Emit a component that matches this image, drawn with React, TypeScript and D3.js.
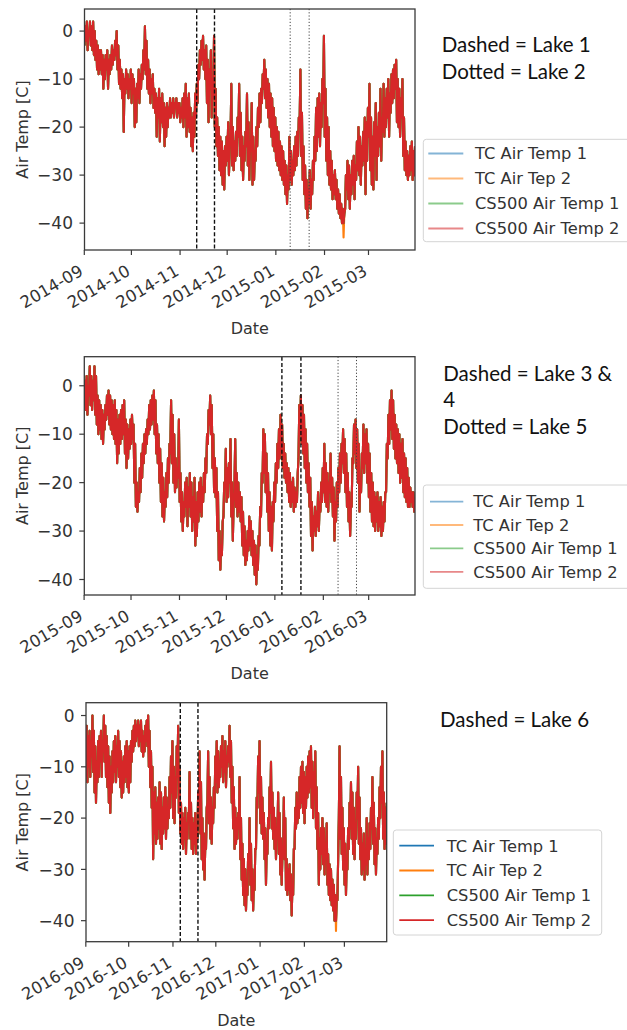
import React from 'react';
import * as d3 from 'd3';

// ---------- DATA ----------
const seriesNames = ['TC Air Temp 1', 'TC Air Tep 2', 'CS500 Air Temp 1', 'CS500 Air Temp 2'];
const seriesColors = ['#1f77b4', '#ff7f0e', '#2ca02c', '#d62728'];
const yTickValues = [0, -10, -20, -30, -40];

// daily [max, min] air temperature readings, winter 2014-15 (from 2014-09-01)
const temps2014 = [
  [1,-3],[2,-2],[0,-4],[2,-1],[1,-3],[2,-4],[0,-5],[-2,-6],[-3,-8],[-4,-9],
  [-4,-8],[-5,-9],[-6,-12],[-5,-10],[-4,-8],[-6,-12],[-5,-9],[-3,-8],[-4,-7],[-2,-6],
  [0,-5],[-3,-8],[-6,-11],[-8,-12],[-9,-14],[-10,-21],[-8,-13],[-9,-12],[-10,-14],[-8,-12],
  [-9,-15],[-10,-13],[-12,-20],[-11,-19],[-8,-14],[-9,-15],[-7,-12],[-4,-10],[1,-8],[-2,-9],
  [-6,-12],[-8,-13],[-10,-15],[-9,-13],[-12,-16],[-13,-17],[-14,-22],[-12,-18],[-14,-23],[-13,-19],
  [-15,-20],[-16,-24],[-15,-22],[-16,-20],[-14,-18],[-15,-18],[-14,-17],[-15,-18],[-14,-16],[-15,-18],
  [-15,-17],[-16,-19],[-14,-18],[-13,-20],[-11,-18],[-14,-22],[-13,-20],[-16,-21],[-18,-24],[-17,-25],
  [-13,-22],[-11,-18],[-7,-15],[-4,-10],[-2,-7],[-1,-6],[-4,-8],[-3,-10],[-6,-15],[-8,-19],
  [-4,-12],[-10,-18],[-1,-14],[-12,-20],[-18,-24],[-20,-26],[-22,-29],[-23,-30],[-25,-32],[-24,-33],
  [-22,-28],[-19,-27],[-24,-30],[-11,-23],[-20,-28],[-23,-29],[-21,-27],[-18,-26],[-11,-22],[-17,-26],
  [-22,-29],[-24,-31],[-21,-27],[-13,-24],[-19,-28],[-23,-31],[-15,-25],[-22,-32],[-25,-31],[-20,-27],
  [-16,-24],[-13,-20],[-12,-19],[-9,-15],[-6,-12],[-8,-14],[-10,-16],[-11,-18],[-13,-20],[-14,-22],
  [-16,-24],[-18,-25],[-20,-27],[-21,-28],[-23,-29],[-24,-30],[-25,-31],[-27,-32],[-28,-34],[-30,-36],
  [-22,-33],[-25,-31],[-27,-32],[-24,-30],[-22,-29],[-21,-28],[-18,-26],[-8,-20],[-17,-26],[-24,-31],
  [-28,-34],[-31,-37],[-33,-39],[-29,-36],[-31,-37],[-27,-34],[-22,-31],[-16,-27],[-14,-25],[-13,-22],
  [-15,-24],[-10,-20],[-1,-15],[-12,-22],[-18,-27],[-20,-30],[-25,-32],[-27,-33],[-30,-35],[-29,-34],
  [-31,-35],[-33,-37],[-34,-38],[-36,-39],[-37,-40],[-38,-40],[-30,-37],[-27,-33],[-28,-35],[-30,-37],
  [-27,-34],[-26,-32],[-28,-35],[-23,-31],[-20,-29],[-22,-30],[-24,-32],[-21,-28],[-18,-27],[-19,-34],
  [-16,-27],[-11,-22],[-18,-29],[-22,-32],[-19,-33],[-15,-26],[-20,-31],[-17,-26],[-12,-24],[-18,-27],
  [-11,-21],[-14,-22],[-12,-20],[-10,-18],[-13,-22],[-9,-17],[-8,-15],[-7,-14],[-6,-12],[-10,-19],
  [-12,-20],[-14,-22],[-10,-18],[-18,-26],[-23,-29],[-25,-30],[-26,-31],[-24,-30],[-23,-29],[-25,-31],
  [-24,-30],
];

// daily [max, min], winter 2015-16 (from 2015-09-01)
const temps2015 = [
  [1,-4],[2,-5],[0,-6],[4,-2],[2,-4],[1,-5],[4,-3],[2,-6],[-2,-8],[-3,-10],
  [-4,-9],[-5,-11],[-6,-12],[-4,-9],[-2,-7],[-1,-6],[-2,-8],[-3,-9],[-4,-10],[-3,-11],
  [-5,-12],[-7,-16],[-6,-14],[-5,-12],[-4,-11],[-3,-10],[-7,-14],[-8,-17],[-9,-15],[-7,-13],
  [-6,-12],[-8,-11],[-12,-20],[-20,-25],[-22,-26],[-17,-24],[-14,-22],[-12,-19],[-10,-16],[-9,-14],
  [-7,-12],[-4,-10],[-3,-9],[-2,-8],[-1,-7],[-3,-10],[-8,-14],[-10,-16],[-13,-20],[-16,-24],
  [-19,-27],[-22,-28],[-18,-25],[-15,-23],[-12,-20],[-3,-14],[-6,-16],[-10,-20],[-15,-22],[-17,-21],
  [-7,-19],[-18,-24],[-22,-28],[-24,-30],[-20,-27],[-19,-25],[-21,-29],[-18,-25],[-20,-27],[-23,-30],
  [-19,-28],[-24,-33],[-22,-31],[-20,-28],[-19,-26],[-21,-27],[-18,-24],[-15,-22],[-10,-18],[-5,-12],
  [-2,-8],[-4,-10],[-10,-17],[-15,-22],[-17,-23],[-22,-30],[-30,-36],[-33,-38],[-28,-35],[-20,-27],
  [-13,-21],[-17,-24],[-16,-23],[-11,-20],[-20,-27],[-24,-32],[-11,-22],[-18,-25],[-20,-27],[-22,-26],
  [-23,-28],[-26,-33],[-29,-35],[-32,-37],[-30,-36],[-27,-34],[-28,-33],[-30,-35],[-32,-37],[-33,-39],
  [-35,-41],[-31,-38],[-25,-33],[-18,-27],[-9,-20],[-10,-18],[-14,-22],[-18,-26],[-22,-30],[-25,-33],
  [-24,-34],[-20,-28],[-16,-24],[-12,-20],[-9,-17],[-6,-15],[-8,-14],[-12,-17],[-14,-19],[-16,-20],
  [-17,-22],[-18,-24],[-20,-25],[-19,-24],[-21,-26],[-22,-25],[-18,-24],[-4,-15],[-2,-10],[-4,-12],
  [-6,-14],[-9,-17],[-12,-20],[-16,-22],[-19,-25],[-24,-31],[-27,-34],[-25,-30],[-26,-31],[-22,-29],
  [-24,-30],[-20,-26],[-17,-24],[-12,-22],[-16,-24],[-18,-25],[-20,-26],[-14,-22],[-19,-24],[-21,-27],
  [-24,-32],[-20,-28],[-17,-25],[-14,-22],[-12,-20],[-9,-16],[-11,-18],[-14,-22],[-18,-25],[-22,-28],
  [-25,-31],[-15,-25],[-8,-16],[-7,-14],[-9,-17],[-12,-20],[-20,-26],[-14,-22],[-8,-17],[-10,-18],
  [-9,-16],[-12,-20],[-14,-23],[-18,-26],[-20,-28],[-22,-29],[-23,-30],[-22,-28],[-24,-30],[-23,-29],
  [-25,-31],[-24,-30],[-22,-28],[-12,-22],[-6,-15],[-3,-12],[-1,-9],[-3,-11],[-6,-13],[-8,-15],
  [-9,-16],[-10,-18],[-12,-20],[-11,-19],[-14,-22],[-15,-23],[-17,-24],[-19,-25],[-21,-25],[-22,-24],
  [-22,-25],[-23,-26],
];

// daily [max, min], winter 2016-17 (from 2016-09-01)
const temps2016 = [
  [-2,-12],[-4,-13],[-3,-10],[-5,-12],[0,-8],[-3,-11],[-6,-15],[-9,-17],[-5,-13],[-4,-12],
  [-3,-9],[-5,-12],[0,-7],[-2,-9],[-4,-12],[-6,-14],[-8,-17],[-10,-19],[-7,-15],[-5,-13],
  [-4,-11],[-6,-13],[-3,-10],[-5,-12],[-7,-14],[-9,-16],[-8,-15],[-6,-13],[-5,-12],[-7,-14],
  [-6,-15],[-5,-13],[-3,-9],[-2,-7],[-1,-6],[-2,-5],[-1,-4],[-2,-6],[-1,-5],[-3,-7],
  [-4,-8],[-2,-7],[-1,-5],[0,-6],[-3,-10],[-7,-14],[-10,-18],[-15,-28],[-14,-23],[-17,-25],
  [-16,-24],[-13,-22],[-15,-25],[-18,-26],[-16,-23],[-14,-22],[-16,-24],[-19,-22],[-12,-20],[-8,-18],
  [-5,-15],[-10,-20],[-12,-21],[-6,-16],[-2,-12],[-10,-19],[-17,-23],[-19,-25],[-20,-26],[-18,-24],
  [-21,-27],[-19,-24],[-11,-20],[-17,-24],[-20,-26],[-21,-27],[-19,-25],[-22,-27],[-15,-24],[-7,-18],
  [-13,-23],[-20,-28],[-23,-30],[-25,-32],[-18,-26],[-7,-17],[-12,-21],[-16,-24],[-18,-25],[-14,-21],
  [-8,-18],[-5,-13],[-7,-15],[-9,-14],[-6,-12],[-4,-10],[-7,-13],[-5,-11],[-8,-14],[-6,-10],
  [-2,-9],[-5,-12],[-10,-17],[-14,-22],[-18,-26],[-20,-25],[-19,-24],[-12,-22],[-20,-28],[-25,-32],
  [-28,-35],[-30,-37],[-32,-38],[-27,-35],[-20,-30],[-25,-33],[-30,-36],[-32,-38],[-26,-34],[-16,-26],
  [-8,-18],[-5,-15],[-12,-21],[-16,-23],[-19,-24],[-22,-28],[-25,-33],[-20,-27],[-14,-22],[-9,-19],
  [-15,-22],[-18,-24],[-20,-26],[-22,-28],[-15,-24],[-19,-27],[-24,-31],[-27,-33],[-16,-27],[-20,-28],
  [-28,-34],[-30,-35],[-29,-34],[-31,-36],[-33,-39],[-26,-35],[-18,-26],[-15,-22],[-17,-21],[-12,-20],
  [-10,-18],[-9,-17],[-11,-19],[-12,-21],[-10,-18],[-8,-16],[-7,-15],[-6,-14],[-9,-18],[-11,-20],
  [-7,-15],[-14,-22],[-19,-26],[-24,-33],[-22,-30],[-20,-27],[-22,-29],[-25,-31],[-21,-27],[-27,-33],
  [-29,-35],[-30,-36],[-32,-37],[-33,-38],[-35,-40],[-36,-40],[-28,-36],[-6,-20],[-12,-24],[-18,-27],
  [-22,-30],[-25,-33],[-28,-35],[-22,-30],[-17,-26],[-13,-22],[-15,-24],[-18,-27],[-21,-28],[-15,-24],
  [-10,-20],[-16,-25],[-22,-28],[-25,-31],[-23,-30],[-26,-32],[-20,-29],[-24,-31],[-21,-28],[-18,-26],
  [-12,-22],[-17,-25],[-22,-29],[-24,-31],[-20,-27],[-14,-24],[-10,-20],[-7,-17],[-15,-24],[-18,-26],
  [-17,-25],
];

// where "TC Air Tep 2" reads colder than the others (daily minimum)
const tcTep2Lows = [
  { panel: 0, day: 165, low: -43 },
  { panel: 2, day: 175, low: -42 },
];

const seasonStarts = ['2014-09-01', '2015-09-01', '2016-09-01'];
const monthTicks2014 = ['2014-09', '2014-10', '2014-11', '2014-12', '2015-01', '2015-02', '2015-03'];
const monthTicks2015 = ['2015-09', '2015-10', '2015-11', '2015-12', '2016-01', '2016-02', '2016-03'];
const monthTicks2016 = ['2016-09', '2016-10', '2016-11', '2016-12', '2017-01', '2017-02', '2017-03'];

const dashed2014 = ['2014-11-11 14:00', '2014-11-22 22:00'];
const dotted2014 = ['2015-01-10 03:00', '2015-01-22 05:00'];
const dashed2015 = ['2016-01-05 12:00', '2016-01-17 16:00'];
const dotted2015 = ['2016-02-10 10:00', '2016-02-22 05:00'];
const dashed2016 = ['2016-11-06 03:00', '2016-11-18 12:00'];
const dotted2016: string[] = [];

const notes2014 = ['Dashed = Lake 1', 'Dotted = Lake 2'];
const notes2015 = ['Dashed = Lake 3 &', '4', 'Dotted = Lake 5'];
const notes2016 = ['Dashed = Lake 6'];

const yDomains = [[-45.6, 4.6], [-43.2, 6.0], [-44.1, 2.5]];

// ---------- LAYOUT ----------
const layouts = [
  { x0: 84.5, x1: 415, y0: 9, y1: 250, legX: 423.3, legY: 139.3, legW: 215, legH: 102.4, rowY: 153.5, rowStep: 25,
    hx0: 428.3, hx1: 463.3, textX: 475, legAlpha: 0.55, noteX: 441.7, noteY: 51.7, noteStep: 27.6 },
  { x0: 84.3, x1: 415, y0: 356.7, y1: 595, legX: 423.3, legY: 485, legW: 215, legH: 103.3, rowY: 501.6, rowStep: 23.4,
    hx0: 430, hx1: 463.3, textX: 473.3, legAlpha: 0.55, noteX: 443.3, noteY: 380.7, noteStep: 26.7 },
  { x0: 86, x1: 386.7, y0: 702.7, y1: 941.7, legX: 393.3, legY: 830, legW: 208.4, legH: 105, rowY: 845.7, rowStep: 24.8,
    hx0: 399.3, hx1: 434, textX: 446.7, legAlpha: 1, noteX: 440, noteY: 726.7, noteStep: 27 },
];

const panelsData = [
  { daily: temps2014, ticks: monthTicks2014, dashed: dashed2014, dotted: dotted2014, notes: notes2014 },
  { daily: temps2015, ticks: monthTicks2015, dashed: dashed2015, dotted: dotted2015, notes: notes2015 },
  { daily: temps2016, ticks: monthTicks2016, dashed: dashed2016, dotted: dotted2016, notes: notes2016 },
];

const parseDay = d3.timeParse('%Y-%m-%d');
const parseMonth = d3.timeParse('%Y-%m');
const parseStamp = d3.timeParse('%Y-%m-%d %H:%M');

const TICK_FONT = "'DejaVu Sans', sans-serif";
const NOTE_FONT = "Lato, 'Open Sans', sans-serif";

type Pt = { t: Date; v: number };

function buildSeries(daily: number[][], start: Date, lows: { day: number; low: number }[]): Pt[] {
  const pts: Pt[] = [];
  daily.forEach(([hi, lo], d) => {
    const ov = lows.find((o) => o.day === d);
    pts.push({ t: d3.timeHour.offset(start, d * 24 + 3), v: ov ? ov.low : lo });
    pts.push({ t: d3.timeHour.offset(start, d * 24 + 15), v: hi });
  });
  return pts;
}

function Panel({ idx }: { idx: number }) {
  const L = layouts[idx];
  const P = panelsData[idx];
  const start = parseDay(seasonStarts[idx]) as Date;
  const end = d3.timeHour.offset(start, (P.daily.length - 1) * 24 + 15);
  const x = d3.scaleTime().domain([d3.timeHour.offset(start, 3), end]).range([L.x0, L.x1]);
  const y = d3.scaleLinear().domain(yDomains[idx]).range([L.y1, L.y0]);
  const line = d3.line<Pt>().x((p) => x(p.t)).y((p) => y(p.v));

  const series = seriesNames.map((_, si) => {
    const lows = si === 1 ? tcTep2Lows.filter((o) => o.panel === idx) : [];
    return buildSeries(P.daily, start, lows);
  });

  const clipId = `clip-${idx}`;
  const midY = (L.y0 + L.y1) / 2;
  const midX = (L.x0 + L.x1) / 2;

  return (
    <g>
      <defs>
        <clipPath id={clipId}>
          <rect x={L.x0} y={L.y0} width={L.x1 - L.x0} height={L.y1 - L.y0} />
        </clipPath>
      </defs>
      <g clipPath={`url(#${clipId})`}>
        {series.map((pts, si) => (
          <path key={si} d={line(pts) || ''} fill="none" stroke={seriesColors[si]} strokeWidth={2.1} strokeLinejoin="round" />
        ))}
        {P.dashed.map((s, i) => {
          const xx = x(parseStamp(s) as Date);
          return <line key={'da' + i} x1={xx} x2={xx} y1={L.y0} y2={L.y1} stroke="#111" strokeWidth={1.4} strokeDasharray="4,2.2" />;
        })}
        {P.dotted.map((s, i) => {
          const xx = x(parseStamp(s) as Date);
          return <line key={'do' + i} x1={xx} x2={xx} y1={L.y0} y2={L.y1} stroke="#444" strokeWidth={1} strokeDasharray="1.2,2" />;
        })}
      </g>
      {/* frame */}
      <rect x={L.x0} y={L.y0} width={L.x1 - L.x0} height={L.y1 - L.y0} fill="none" stroke="#3a3a3a" strokeWidth={1.3} />
      {/* y ticks */}
      {yTickValues.map((v) => (
        <g key={'y' + v}>
          <line x1={L.x0 - 5} x2={L.x0} y1={y(v)} y2={y(v)} stroke="#3a3a3a" strokeWidth={1.2} />
          <text x={L.x0 - 11.5} y={y(v)} dy="0.36em" textAnchor="end" fontFamily={TICK_FONT} fontSize={17} fill="#333">
            {v < 0 ? '\u2212' + Math.abs(v) : String(v)}
          </text>
        </g>
      ))}
      {/* x ticks */}
      {P.ticks.map((m) => {
        const xx = x(parseMonth(m) as Date);
        return (
          <g key={m}>
            <line x1={xx} x2={xx} y1={L.y1} y2={L.y1 + 5} stroke="#3a3a3a" strokeWidth={1.2} />
            <text transform={`translate(${xx - 6},${L.y1 + 14}) rotate(-30)`} textAnchor="end" dy="0.72em"
              fontFamily={TICK_FONT} fontSize={16.5} fill="#333">{m}</text>
          </g>
        );
      })}
      <text x={midX} y={L.y1 + 84} textAnchor="middle" fontFamily={TICK_FONT} fontSize={16} fill="#333">Date</text>
      <text transform={`translate(27.5,${midY}) rotate(-90)`} textAnchor="middle" fontFamily={TICK_FONT} fontSize={16} fill="#333">
        Air Temp [C]
      </text>
      {/* legend */}
      <rect x={L.legX} y={L.legY} width={L.legW} height={L.legH} rx={3} fill="#fff" fillOpacity={0.85} stroke="#d4d4d4" strokeWidth={1} />
      {seriesNames.map((n, si) => {
        const ry = L.rowY + si * L.rowStep;
        return (
          <g key={n}>
            <line x1={L.hx0} x2={L.hx1} y1={ry} y2={ry} stroke={seriesColors[si]} strokeOpacity={L.legAlpha} strokeWidth={1.8} />
            <text x={L.textX} y={ry} dy="0.36em" fontFamily={TICK_FONT} fontSize={16.3} fill="#333">{n}</text>
          </g>
        );
      })}
      {/* notes */}
      {P.notes.map((t, i) => (
        <text key={'n' + i} x={L.noteX} y={L.noteY + i * L.noteStep} fontFamily={NOTE_FONT} fontSize={20.5} fill="#111">{t}</text>
      ))}
    </g>
  );
}

export default function App() {
  return (
    <svg width={627} height={1030} style={{ position: 'absolute', left: 0, top: 0, background: '#fff' }}>
      <rect x={0} y={0} width={627} height={1030} fill="#fff" />
      {[0, 1, 2].map((i) => <Panel key={i} idx={i} />)}
    </svg>
  );
}
